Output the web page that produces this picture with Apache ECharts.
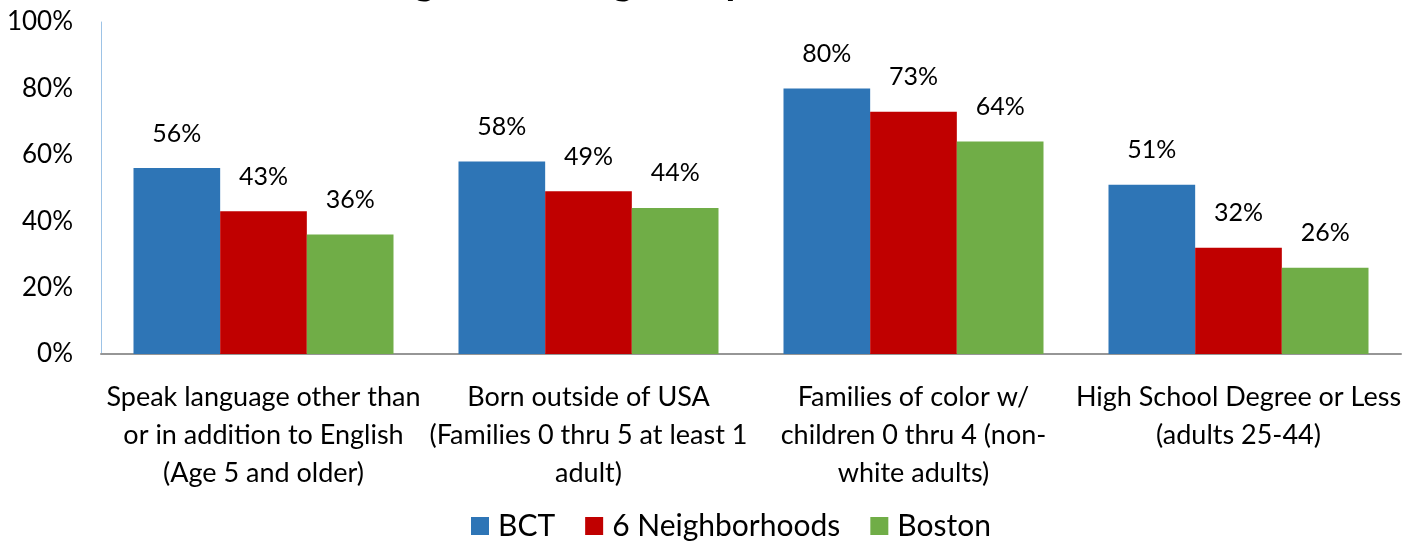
<!DOCTYPE html>
<html><head><meta charset="utf-8">
<script src="https://cdn.jsdelivr.net/npm/echarts@6/dist/echarts.min.js"></script>
<style>html,body{margin:0;padding:0;background:#fff}#c{width:1406px;height:542px}</style>
</head><body><div id="c"></div>
<script>
const categories = [
  "Speak language other than\nor in addition to English\n(Age 5 and older)",
  "Born outside of USA\n(Families 0 thru 5 at least 1\nadult)",
  "Families of color w/\nchildren 0 thru 4 (non-\nwhite adults)",
  "High School Degree or Less\n(adults 25-44)"
];
const seriesNames = ["BCT", "6 Neighborhoods", "Boston"];
const bctValues = [56, 58, 80, 51];
const neighborhoodValues = [43, 49, 73, 32];
const bostonValues = [36, 44, 64, 26];
const yTicks = [0, 20, 40, 60, 80, 100];
const titleText = "Looking at the Target Population in BCT Areas";

const colors = ["#2E75B6", "#C00000", "#70AD47"];
const font = "Lato, 'Open Sans', sans-serif";
const chart = echarts.init(document.getElementById('c'));
const values = [bctValues, neighborhoodValues, bostonValues];
chart.setOption({
  animation: false,
  title: { text: titleText, left: 'center', top: -44, textStyle: { fontFamily: font, fontSize: 40, fontWeight: 'bold', color: '#000' } },
  legend: {
    data: seriesNames, bottom: 1, left: 471, padding: 0, itemWidth: 18, itemHeight: 18, itemGap: 30,
    icon: 'rect', textStyle: { fontFamily: font, fontSize: 30, color: '#000', padding: [0, 0, 0, 4] }
  },
  grid: { left: 101, right: 5, top: 22, bottom: 188 },
  xAxis: {
    type: 'category', data: categories,
    axisLine: { lineStyle: { color: '#969696', width: 2 } },
    axisTick: { show: false },
    axisLabel: { fontFamily: font, fontSize: 27, color: '#000', lineHeight: 38, margin: 24, interval: 0 }
  },
  yAxis: {
    type: 'value', min: 0, max: 100, interval: 20,
    axisLine: { show: true, lineStyle: { color: '#9DC3E6', width: 1 } },
    splitLine: { show: false },
    axisTick: { show: false },
    axisLabel: { fontFamily: font, fontSize: 26, color: '#000', margin: 28,
      formatter: v => yTicks.includes(v) ? v + '%' : '' }
  },
  series: seriesNames.map((n, i) => ({
    name: n, type: 'bar', data: values[i], barGap: '0%', barCategoryGap: '20%',
    itemStyle: { color: colors[i] },
    label: { show: true, position: 'top', distance: 22, formatter: '{c}%', fontFamily: font, fontSize: 25, color: '#000' }
  }))
});
</script></body></html>
